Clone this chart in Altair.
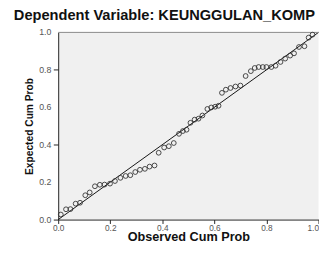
import altair as alt
import pandas as pd

# Observed vs expected cumulative probabilities
observed = [0.010, 0.030, 0.047, 0.067, 0.084, 0.104, 0.121, 0.141, 0.160, 0.178,
            0.199, 0.218, 0.239, 0.259, 0.277, 0.296, 0.314, 0.333, 0.351, 0.370,
            0.386, 0.407, 0.425, 0.444, 0.464, 0.479, 0.493, 0.508, 0.524, 0.539,
            0.554, 0.573, 0.588, 0.603, 0.616, 0.629, 0.644, 0.662, 0.681, 0.700,
            0.720, 0.740, 0.755, 0.770, 0.786, 0.800, 0.819, 0.835, 0.854, 0.872,
            0.891, 0.906, 0.925, 0.946, 0.962, 0.977]
expected = [0.027, 0.055, 0.056, 0.085, 0.090, 0.130, 0.145, 0.178, 0.186, 0.187,
            0.192, 0.206, 0.223, 0.233, 0.237, 0.254, 0.266, 0.271, 0.283, 0.289,
            0.357, 0.385, 0.392, 0.409, 0.458, 0.473, 0.480, 0.517, 0.534, 0.539,
            0.556, 0.591, 0.599, 0.603, 0.608, 0.677, 0.694, 0.703, 0.711, 0.716,
            0.767, 0.793, 0.810, 0.815, 0.815, 0.815, 0.815, 0.822, 0.842, 0.860,
            0.876, 0.888, 0.922, 0.926, 0.972, 0.988]
ref_line = [0.0, 1.0]
top_edge = [1.0]
ticks = [0.0, 0.2, 0.4, 0.6, 0.8, 1.0]

pts = pd.DataFrame({"obs": observed, "exp": expected})
diag = pd.DataFrame({"obs": ref_line, "exp": ref_line})
edge = pd.DataFrame({"exp": top_edge})
tick_df = pd.DataFrame({"v": ticks})

FONT = "Liberation Sans"

xscale = alt.Scale(domain=[0, 1], nice=False, zero=False)
yscale = alt.Scale(domain=[0, 1], nice=False, zero=False)

xaxis = alt.Axis(title="Observed Cum Prob", values=ticks, format=".1f", grid=False,
                 labelOverlap=False, labelFlush=False,
                 labelAlign={"condition": {"test": "datum.value >= 1", "value": "right"},
                             "value": "center"},
                 domainColor="#222", tickColor="#222", tickSize=4, tickWidth=1,
                 labelFont=FONT, labelFontSize=8.5, labelColor="#555", labelPadding=0.5,
                 titleFont=FONT, titleFontSize=13, titleFontWeight="bold",
                 titleColor="#111", titleY=21, titleBaseline="alphabetic")
yaxis = alt.Axis(title="Expected Cum Prob", values=ticks, grid=False, labels=False,
                 domainColor="#222", tickColor="#222", tickSize=5, tickWidth=1,
                 titleFont=FONT, titleFontSize=10.5, titleFontWeight="bold",
                 titleColor="#111", titleX=-26, titleBaseline="alphabetic")

line = alt.Chart(diag).mark_line(color="#111", strokeWidth=1).encode(
    x=alt.X("obs:Q", scale=xscale, axis=xaxis),
    y=alt.Y("exp:Q", scale=yscale, axis=yaxis),
)
top = alt.Chart(edge).mark_rule(color="#888", strokeWidth=1).encode(
    y=alt.Y("exp:Q", scale=yscale),
)
ylabels = alt.Chart(tick_df).mark_text(align="right", baseline="middle", font=FONT,
                                      fontSize=9, color="#555").encode(
    y=alt.Y("v:Q", scale=yscale),
    x=alt.value(-7),
    text=alt.Text("v:Q", format=".1f"),
)
points = alt.Chart(pts).mark_point(shape="circle", filled=False, size=24,
                                   color="#333", strokeWidth=0.9, opacity=1).encode(
    x=alt.X("obs:Q", scale=xscale),
    y=alt.Y("exp:Q", scale=yscale),
)

chart = alt.layer(line, top, ylabels, points).properties(
    width=267, height=192,
    autosize=alt.AutoSizeParams(type="none"),
    padding={"left": 51.5, "top": 22, "right": 0.5, "bottom": 21},
    title=alt.TitleParams("Dependent Variable: KEUNGGULAN_KOMP", anchor="start",
                          frame="group", dx=-45.5, offset=6, font=FONT,
                          fontSize=15, fontWeight="bold", color="#111"),
    background="white",
).configure_view(fill="#f0f0f0", stroke=None)

chart.save("out.html", embed_options={"renderer": "svg", "actions": False})
